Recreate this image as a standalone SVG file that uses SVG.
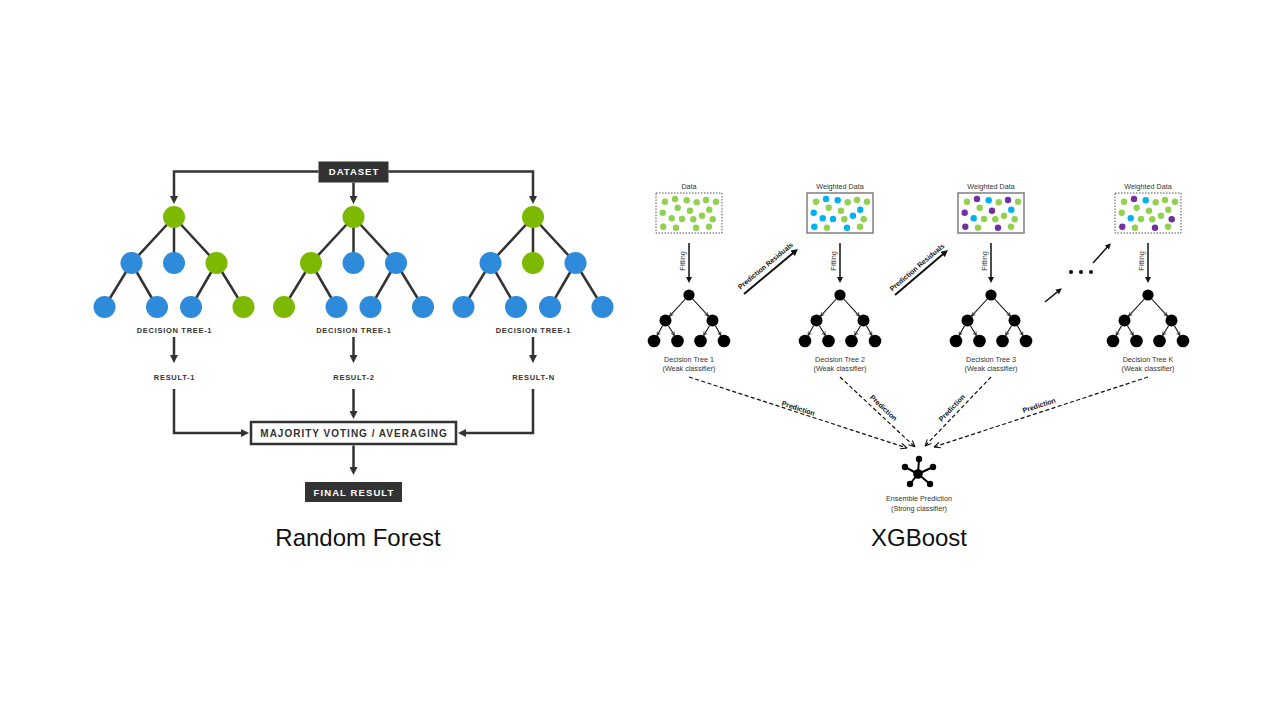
<svg xmlns="http://www.w3.org/2000/svg" xmlns:xlink="http://www.w3.org/1999/xlink" width="1280" height="720" viewBox="0 0 1280 720">
<style>
  .rfl{stroke:#333;stroke-width:2.5;fill:none}
  .rfa{stroke:#333;stroke-width:2.5;fill:none;marker-end:url(#ah)}
  .gr{fill:#7cb900}
  .bl{fill:#2e8bdb}
  .lab{font-family:"Liberation Sans",Arial,sans-serif;font-weight:bold;font-size:7.5px;letter-spacing:0.7px;fill:#333;text-anchor:middle}
  .boxt{font-family:"Liberation Sans",Arial,sans-serif;font-weight:bold;fill:#fff;text-anchor:middle}
  .title{font-family:"Liberation Sans",Arial,sans-serif;font-size:24px;fill:#111;text-anchor:middle}
  .xt{font-family:"Liberation Sans",Arial,sans-serif;font-size:7.2px;fill:#333;text-anchor:middle}
  .xb{font-family:"Liberation Sans",Arial,sans-serif;font-size:7px;font-weight:bold;fill:#111;text-anchor:middle}
  .g{fill:#92d050}.b{fill:#00b0f0}.p{fill:#7030a0}
  .dbox{fill:#fff;stroke:#555;stroke-width:1;stroke-dasharray:1.5 1.5}
  .sbox{fill:#fff;stroke:#7f7f7f;stroke-width:1.5}
  .fit{stroke:#111;stroke-width:1.5;fill:none;marker-end:url(#xh)}
  .res{stroke:#111;stroke-width:2;fill:none;marker-end:url(#xh2)}
  .te{stroke:#111;stroke-width:1.1;fill:none;marker-end:url(#th)}
  .dash{stroke:#111;stroke-width:1.2;fill:none;stroke-dasharray:4 2.5;marker-end:url(#dh)}
</style>
<defs>
  <marker id="ah" viewBox="0 0 10 10" refX="3" refY="5" markerWidth="8" markerHeight="8" markerUnits="userSpaceOnUse" orient="auto"><path d="M0,0 L10,5 L0,10 z" fill="#333"/></marker>
  <marker id="xh" viewBox="0 0 10 10" refX="3" refY="5" markerWidth="6" markerHeight="6" markerUnits="userSpaceOnUse" orient="auto"><path d="M0,0 L10,5 L0,10 z" fill="#111"/></marker>
  <marker id="xh2" viewBox="0 0 10 10" refX="3" refY="5" markerWidth="7" markerHeight="7" markerUnits="userSpaceOnUse" orient="auto"><path d="M0,0 L10,5 L0,10 z" fill="#111"/></marker>
  <marker id="th" viewBox="0 0 10 10" refX="9" refY="5" markerWidth="4.5" markerHeight="4.5" markerUnits="userSpaceOnUse" orient="auto"><path d="M1,1 L9,5 L1,9" fill="none" stroke="#111" stroke-width="1.5"/></marker>
  <marker id="dh" viewBox="0 0 10 10" refX="9.5" refY="5" markerWidth="7" markerHeight="7" markerUnits="userSpaceOnUse" orient="auto"><path d="M0.5,0.8 L9.5,5 L0.5,9.2" fill="none" stroke="#111" stroke-width="1.5"/></marker>
  <g id="xtree">
    <line class="te" x1="-3.7" y1="299" x2="-19.4" y2="316.1"/>
    <line class="te" x1="3.7" y1="299" x2="19.4" y2="316.1"/>
    <line class="te" x1="-26.4" y1="325.7" x2="-31.9" y2="335.5"/>
    <line class="te" x1="-20.6" y1="325.7" x2="-14.6" y2="335.5"/>
    <line class="te" x1="20.6" y1="325.7" x2="14.6" y2="335.5"/>
    <line class="te" x1="26.4" y1="325.7" x2="31.9" y2="335.5"/>
    <circle cx="0" cy="295" r="5.6" fill="#000"/>
    <circle cx="-23.5" cy="320.5" r="6" fill="#000"/>
    <circle cx="23.5" cy="320.5" r="6" fill="#000"/>
    <circle cx="-35" cy="341" r="6.3" fill="#000"/>
    <circle cx="-11.5" cy="341" r="6.3" fill="#000"/>
    <circle cx="11.5" cy="341" r="6.3" fill="#000"/>
    <circle cx="35" cy="341" r="6.3" fill="#000"/>
  </g>
</defs>
<rect width="1280" height="720" fill="#fff"/>

<!-- ============ RANDOM FOREST ============ -->
<g id="rf-connectors">
  <path class="rfa" d="M318.5,171.5 H174 V198.4"/>
  <path class="rfa" d="M388.5,171.5 H533 V198.4"/>
  <path class="rfa" d="M353.5,182.5 V198.4"/>
  <path class="rfa" d="M174,337 V357.5"/>
  <path class="rfa" d="M353.5,337 V357.5"/>
  <path class="rfa" d="M533,337 V357.5"/>
  <path class="rfa" d="M174,389 V433 H243.4"/>
  <path class="rfa" d="M533,389 V433 H463.6"/>
  <path class="rfa" d="M353.5,389 V413.4"/>
  <path class="rfa" d="M353.5,445.5 V469.4"/>
  <g class="rfl">
    <path d="M174,217 L131.5,263 M174,217 V263 M174,217 L216.5,263 M131.5,263 L104.5,307 M131.5,263 L157,307 M216.5,263 L191,307 M216.5,263 L243.5,307"/>
    <path d="M353.5,217 L311,263 M353.5,217 V263 M353.5,217 L396,263 M311,263 L284,307 M311,263 L336.5,307 M396,263 L370.5,307 M396,263 L423,307"/>
    <path d="M533,217 L490.5,263 M533,217 V263 M533,217 L575.5,263 M490.5,263 L463.5,307 M490.5,263 L516,307 M575.5,263 L550,307 M575.5,263 L602.5,307"/>
  </g>
</g>

<g id="rf-dataset">
  <rect x="318.5" y="161.5" width="70" height="21" fill="#333"/>
  <text class="boxt" x="354" y="175" font-size="9.5" letter-spacing="1">DATASET</text>
</g>

<g id="rf-tree1">
  <circle class="gr" cx="174" cy="217" r="11"/>
  <circle class="bl" cx="131.5" cy="263" r="11"/>
  <circle class="bl" cx="174" cy="263" r="11"/>
  <circle class="gr" cx="216.5" cy="263" r="11"/>
  <circle class="bl" cx="104.5" cy="307" r="11"/>
  <circle class="bl" cx="157" cy="307" r="11"/>
  <circle class="bl" cx="191" cy="307" r="11"/>
  <circle class="gr" cx="243.5" cy="307" r="11"/>
  <text class="lab" x="174.5" y="332.7">DECISION TREE-1</text>
</g>
<g id="rf-tree2">
  <circle class="gr" cx="353.5" cy="217" r="11"/>
  <circle class="gr" cx="311" cy="263" r="11"/>
  <circle class="bl" cx="353.5" cy="263" r="11"/>
  <circle class="bl" cx="396" cy="263" r="11"/>
  <circle class="gr" cx="284" cy="307" r="11"/>
  <circle class="bl" cx="336.5" cy="307" r="11"/>
  <circle class="bl" cx="370.5" cy="307" r="11"/>
  <circle class="bl" cx="423" cy="307" r="11"/>
  <text class="lab" x="354" y="332.7">DECISION TREE-1</text>
</g>
<g id="rf-tree3">
  <circle class="gr" cx="533" cy="217" r="11"/>
  <circle class="bl" cx="490.5" cy="263" r="11"/>
  <circle class="gr" cx="533" cy="263" r="11"/>
  <circle class="bl" cx="575.5" cy="263" r="11"/>
  <circle class="bl" cx="463.5" cy="307" r="11"/>
  <circle class="bl" cx="516" cy="307" r="11"/>
  <circle class="bl" cx="550" cy="307" r="11"/>
  <circle class="bl" cx="602.5" cy="307" r="11"/>
  <text class="lab" x="533.5" y="332.7">DECISION TREE-1</text>
</g>
<g id="rf-result1"><text class="lab" x="174.5" y="380.3">RESULT-1</text></g>
<g id="rf-result2"><text class="lab" x="354" y="380.3">RESULT-2</text></g>
<g id="rf-resultn"><text class="lab" x="533.5" y="380.3">RESULT-N</text></g>
<g id="rf-majority">
  <rect x="251" y="422" width="205" height="22" fill="#fff" stroke="#333" stroke-width="2.5"/>
  <text x="354" y="436.7" font-family="Liberation Sans, Arial, sans-serif" font-weight="bold" font-size="10" letter-spacing="1" fill="#333" text-anchor="middle">MAJORITY VOTING / AVERAGING</text>
</g>
<g id="rf-final">
  <rect x="305" y="482" width="97" height="20" fill="#333"/>
  <text class="boxt" x="354" y="495.5" font-size="9.5" letter-spacing="1.1">FINAL RESULT</text>
</g>
<text class="title" x="358" y="546">Random Forest</text>

<!-- ============ XGBOOST ============ -->
<g id="xgb-connectors">
  <path class="fit" d="M689,243 V278.8"/>
  <path class="fit" d="M840,243 V278.8"/>
  <path class="fit" d="M991,243 V278.8"/>
  <path class="fit" d="M1148,243 V278.8"/>
  <path class="res" d="M744,294 L794.2,252.1"/>
  <path class="res" d="M895,295 L944.2,253.1"/>
  <path class="fit" d="M1045,302 L1058.6,290.8"/>
  <path class="fit" d="M1093,263 L1108,246.3"/>
  <path class="dash" d="M689,377 L907,448"/>
  <path class="dash" d="M840,377 L915,447"/>
  <path class="dash" d="M991,377 L925,446"/>
  <path class="dash" d="M1148,377 L934,447"/>
  <text class="xt" transform="translate(682.5,261) rotate(-90)" y="2.5" font-size="7">Fitting</text>
  <text class="xt" transform="translate(833.5,261) rotate(-90)" y="2.5" font-size="7">Fitting</text>
  <text class="xt" transform="translate(984.5,261) rotate(-90)" y="2.5" font-size="7">Fitting</text>
  <text class="xt" transform="translate(1141.5,261) rotate(-90)" y="2.5" font-size="7">Fitting</text>
  <text class="xb" font-size="6.7" transform="translate(766.5,267) rotate(-39.8)" y="0.8">Prediction Residuals</text>
  <text class="xb" font-size="6.7" transform="translate(918,268.5) rotate(-40.5)" y="0.8">Prediction Residuals</text>
  <text class="xb" transform="translate(798,409.5) rotate(18)" y="1.2">Prediction</text>
  <text class="xb" transform="translate(883,408.5) rotate(43)" y="1.5">Prediction</text>
  <text class="xb" transform="translate(952.5,408.5) rotate(-46.5)" y="1.5">Prediction</text>
  <text class="xb" transform="translate(1039.5,406.5) rotate(-18.2)" y="1.2">Prediction</text>
  <circle cx="1071" cy="272" r="2.1" fill="#111"/>
  <circle cx="1081" cy="272" r="2.1" fill="#111"/>
  <circle cx="1091" cy="272" r="2.1" fill="#111"/>
</g>

<g id="xgb-data1">
  <text class="xt" x="689" y="189" font-size="7.5">Data</text>
  <rect class="dbox" x="656" y="193" width="66" height="40"/>
  <g transform="translate(656,193)">
    <circle class="g" cx="9" cy="8.7" r="3.2"/><circle class="g" cx="19" cy="6" r="3.2"/><circle class="g" cx="30.7" cy="7.3" r="3.2"/><circle class="g" cx="40.7" cy="9.3" r="3.2"/><circle class="g" cx="50" cy="7" r="3.2"/><circle class="g" cx="60" cy="8.7" r="3.2"/>
    <circle class="g" cx="6.7" cy="19.7" r="3.2"/><circle class="g" cx="21.7" cy="14.7" r="3.2"/><circle class="g" cx="34" cy="17.7" r="3.2"/><circle class="g" cx="53.3" cy="16.7" r="3.2"/>
    <circle class="g" cx="15.7" cy="25.3" r="3.2"/><circle class="g" cx="26" cy="26" r="3.2"/><circle class="g" cx="37.3" cy="26.3" r="3.2"/><circle class="g" cx="46" cy="22.7" r="3.2"/><circle class="g" cx="56.7" cy="26.3" r="3.2"/>
    <circle class="g" cx="7.3" cy="33.7" r="3.2"/><circle class="g" cx="20" cy="34.7" r="3.2"/><circle class="g" cx="40" cy="34.7" r="3.2"/><circle class="g" cx="53" cy="33.7" r="3.2"/>
  </g>
</g>
<g id="xgb-data2">
  <text class="xt" x="840" y="189" font-size="7.5">Weighted Data</text>
  <rect class="sbox" x="807" y="193" width="66" height="40"/>
  <g transform="translate(807,193)">
    <circle class="g" cx="9" cy="8.7" r="3.2"/><circle class="b" cx="19" cy="6" r="3.2"/><circle class="b" cx="30.7" cy="7.3" r="3.2"/><circle class="g" cx="40.7" cy="9.3" r="3.2"/><circle class="g" cx="50" cy="7" r="3.2"/><circle class="g" cx="60" cy="8.7" r="3.2"/>
    <circle class="b" cx="6.7" cy="19.7" r="3.2"/><circle class="g" cx="21.7" cy="14.7" r="3.2"/><circle class="g" cx="34" cy="17.7" r="3.2"/><circle class="b" cx="53.3" cy="16.7" r="3.2"/>
    <circle class="b" cx="15.7" cy="25.3" r="3.2"/><circle class="b" cx="26" cy="26" r="3.2"/><circle class="g" cx="37.3" cy="26.3" r="3.2"/><circle class="b" cx="46" cy="22.7" r="3.2"/><circle class="g" cx="56.7" cy="26.3" r="3.2"/>
    <circle class="b" cx="7.3" cy="33.7" r="3.2"/><circle class="g" cx="20" cy="34.7" r="3.2"/><circle class="b" cx="40" cy="34.7" r="3.2"/><circle class="g" cx="53" cy="33.7" r="3.2"/>
  </g>
</g>
<g id="xgb-data3">
  <text class="xt" x="991" y="189" font-size="7.5">Weighted Data</text>
  <rect class="sbox" x="958" y="193" width="66" height="40"/>
  <g transform="translate(958,193)">
    <circle class="g" cx="9" cy="8.7" r="3.2"/><circle class="p" cx="19" cy="6" r="3.2"/><circle class="b" cx="30.7" cy="7.3" r="3.2"/><circle class="g" cx="40.7" cy="9.3" r="3.2"/><circle class="p" cx="50" cy="7" r="3.2"/><circle class="g" cx="60" cy="8.7" r="3.2"/>
    <circle class="p" cx="6.7" cy="19.7" r="3.2"/><circle class="g" cx="21.7" cy="14.7" r="3.2"/><circle class="p" cx="34" cy="17.7" r="3.2"/><circle class="b" cx="53.3" cy="16.7" r="3.2"/>
    <circle class="b" cx="15.7" cy="25.3" r="3.2"/><circle class="g" cx="26" cy="26" r="3.2"/><circle class="g" cx="37.3" cy="26.3" r="3.2"/><circle class="g" cx="46" cy="22.7" r="3.2"/><circle class="g" cx="56.7" cy="26.3" r="3.2"/>
    <circle class="p" cx="7.3" cy="33.7" r="3.2"/><circle class="g" cx="20" cy="34.7" r="3.2"/><circle class="p" cx="40" cy="34.7" r="3.2"/><circle class="g" cx="53" cy="33.7" r="3.2"/>
  </g>
</g>
<g id="xgb-data4">
  <text class="xt" x="1148" y="189" font-size="7.5">Weighted Data</text>
  <rect class="dbox" x="1115" y="193" width="66" height="40"/>
  <g transform="translate(1115,193)">
    <circle class="g" cx="9" cy="8.7" r="3.2"/><circle class="p" cx="19" cy="6" r="3.2"/><circle class="b" cx="30.7" cy="7.3" r="3.2"/><circle class="g" cx="40.7" cy="9.3" r="3.2"/><circle class="g" cx="50" cy="7" r="3.2"/><circle class="g" cx="60" cy="8.7" r="3.2"/>
    <circle class="g" cx="6.7" cy="19.7" r="3.2"/><circle class="g" cx="21.7" cy="14.7" r="3.2"/><circle class="g" cx="34" cy="17.7" r="3.2"/><circle class="g" cx="53.3" cy="16.7" r="3.2"/>
    <circle class="b" cx="15.7" cy="25.3" r="3.2"/><circle class="g" cx="26" cy="26" r="3.2"/><circle class="g" cx="37.3" cy="26.3" r="3.2"/><circle class="g" cx="46" cy="22.7" r="3.2"/><circle class="p" cx="56.7" cy="26.3" r="3.2"/>
    <circle class="p" cx="7.3" cy="33.7" r="3.2"/><circle class="g" cx="20" cy="34.7" r="3.2"/><circle class="p" cx="40" cy="34.7" r="3.2"/><circle class="g" cx="53" cy="33.7" r="3.2"/>
  </g>
</g>

<g id="xgb-tree1">
  <use xlink:href="#xtree" href="#xtree" x="689"/>
  <text class="xt" x="689" y="361.5">Decision Tree 1</text>
  <text class="xt" x="689" y="371">(Weak classifier)</text>
</g>
<g id="xgb-tree2">
  <use xlink:href="#xtree" href="#xtree" x="840"/>
  <text class="xt" x="840" y="361.5">Decision Tree 2</text>
  <text class="xt" x="840" y="371">(Weak classifier)</text>
</g>
<g id="xgb-tree3">
  <use xlink:href="#xtree" href="#xtree" x="991"/>
  <text class="xt" x="991" y="361.5">Decision Tree 3</text>
  <text class="xt" x="991" y="371">(Weak classifier)</text>
</g>
<g id="xgb-treek">
  <use xlink:href="#xtree" href="#xtree" x="1148"/>
  <text class="xt" x="1148" y="361.5">Decision Tree K</text>
  <text class="xt" x="1148" y="371">(Weak classifier)</text>
</g>

<g id="xgb-ensemble">
  <g stroke="#000" stroke-width="2">
    <line x1="918" y1="474" x2="919" y2="459"/>
    <line x1="918" y1="474" x2="905" y2="467"/>
    <line x1="918" y1="474" x2="933" y2="467"/>
    <line x1="918" y1="474" x2="910" y2="484"/>
    <line x1="918" y1="474" x2="930" y2="484"/>
  </g>
  <circle cx="918" cy="474" r="4.8" fill="#000"/>
  <circle cx="919" cy="459" r="3.2" fill="#000"/>
  <circle cx="905" cy="467" r="3.2" fill="#000"/>
  <circle cx="933" cy="467" r="3.2" fill="#000"/>
  <circle cx="910" cy="484" r="3.2" fill="#000"/>
  <circle cx="930" cy="484" r="3.2" fill="#000"/>
  <text class="xt" x="919" y="501">Ensemble Prediction</text>
  <text class="xt" x="919" y="510.5">(Strong classifier)</text>
</g>
<text class="title" x="919" y="546">XGBoost</text>
</svg>
